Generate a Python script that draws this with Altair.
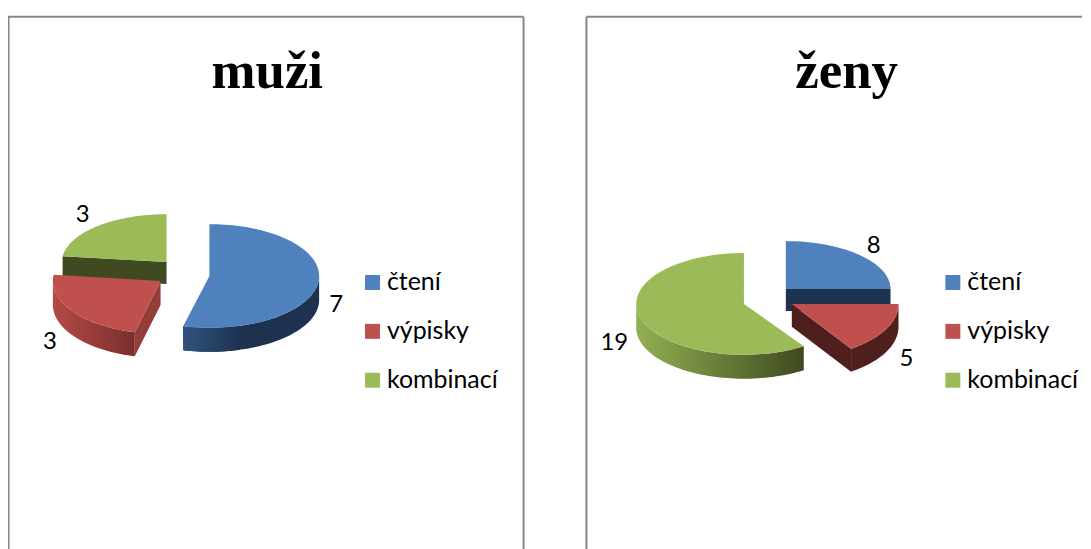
import math
import altair as alt
import pandas as pd

categories = ["čtení", "výpisky", "kombinací"]
colors = ["#4F81BD", "#C0504D", "#9BBB59"]
men_values = [7, 3, 3]
women_values = [8, 5, 19]

# exploded-slice placement: apex x, apex y, radius x, radius y, depth
men_geom = [(210, 276, 110, 52, 24), (161, 281, 108, 53, 24), (167, 262, 105, 48, 22)]
women_geom = [(786, 289, 105, 48, 22), (792, 304, 107, 54, 23), (744, 304, 108, 51, 24)]

men_labels = [(337, 305), (50, 342), (83, 215)]
women_labels = [(874, 246), (907, 359), (614, 343)]

XDOM_L = [8, 525]
XDOM_R = [586, 1083]
YDOM = [550, 16]
H = 534
FRAME = "#868686"

def pt(g, a):
    r = math.radians(a)
    return (g[0] + g[2] * math.sin(r), g[1] - g[3] * math.cos(r))

def arc(g, a0, a1):
    n = max(2, int(abs(a1 - a0) / 2))
    return [pt(g, a0 + (a1 - a0) * i / n) for i in range(n + 1)]

def poly(points, fill, xdom):
    df = pd.DataFrame({"x": [p[0] for p in points], "y": [p[1] for p in points], "i": range(len(points))})
    return alt.Chart(df).mark_line(fill=fill, strokeWidth=0, interpolate="linear").encode(
        x=alt.X("x:Q", scale=alt.Scale(domain=xdom), axis=None),
        y=alt.Y("y:Q", scale=alt.Scale(domain=YDOM), axis=None),
        order="i:Q",
    )

def grad(c0, c1):
    return alt.Gradient(gradient="linear", x1=0, x2=1, y1=0, y2=0,
                        stops=[alt.GradientStop(color=c0, offset=0), alt.GradientStop(color=c1, offset=1)])

def wall(g, a0, a1, fill, xdom):
    top = arc(g, a0, a1)
    d = g[4]
    return poly(top + [(x, y + d) for x, y in reversed(top)], fill, xdom)

def cut(g, a, fill, xdom):
    e = pt(g, a)
    d = g[4]
    return poly([(g[0], g[1]), e, (e[0], e[1] + d), (g[0], g[1] + d)], fill, xdom)

def top(g, a0, a1, fill, xdom):
    return poly([(g[0], g[1])] + arc(g, a0, a1), fill, xdom)

def texts(labels, values, xdom):
    df = pd.DataFrame({"x": [p[0] for p in labels], "y": [p[1] for p in labels], "t": [str(v) for v in values]})
    return alt.Chart(df).mark_text(font="Lato", fontSize=24, color="#000000", align="center", baseline="middle").encode(
        x=alt.X("x:Q", scale=alt.Scale(domain=xdom), axis=None),
        y=alt.Y("y:Q", scale=alt.Scale(domain=YDOM), axis=None),
        text="t:N",
    )

def heading(text, xc, xdom):
    df = pd.DataFrame({"x": [xc], "y": [71], "t": [text]})
    return alt.Chart(df).mark_text(font="Liberation Serif", fontWeight="bold", fontSize=53, color="#000000",
                                   align="center", baseline="middle").encode(
        x=alt.X("x:Q", scale=alt.Scale(domain=xdom), axis=None),
        y=alt.Y("y:Q", scale=alt.Scale(domain=YDOM), axis=None),
        text="t:N",
    )

def legend_layer(lx):
    df = pd.DataFrame({"k": categories})
    return alt.Chart(df).mark_square(opacity=0, size=225).encode(
        x=alt.value(200), y=alt.value(200),
        color=alt.Color("k:N", scale=alt.Scale(domain=categories, range=colors),
                        legend=alt.Legend(title=None, orient="none", legendX=lx, legendY=254,
                                          symbolType="square", symbolSize=225, symbolOpacity=1,
                                          symbolStrokeWidth=0, symbolOffset=0,
                                          labelFont="Lato", labelFontSize=25, labelColor="#000000",
                                          labelOffset=2, rowPadding=23, labelLimit=200)),
    )

def frame(w):
    base = alt.Chart(pd.DataFrame({"k": [0]}))
    return alt.layer(
        base.mark_rule(color=FRAME, strokeWidth=2).encode(x=alt.value(0.5), y=alt.value(0), y2=alt.value(H)),
        base.mark_rule(color=FRAME, strokeWidth=2).encode(x=alt.value(w), y=alt.value(0), y2=alt.value(H)),
        base.mark_rule(color=FRAME, strokeWidth=2).encode(x=alt.value(0), x2=alt.value(w), y=alt.value(0)),
    )

def angles(vals):
    total = sum(vals)
    out, s = [], 0
    for v in vals:
        e = s + v / total * 360
        out.append((s, e))
        s = e
    return out

# men
ma = angles(men_values)
mb, mr, mg = men_geom
left = alt.layer(
    frame(517),
    heading("muži", 268, XDOM_L),
    cut(mg, ma[2][0], "#404A20", XDOM_L),
    top(mg, *ma[2], colors[2], XDOM_L),
    wall(mb, 90, ma[0][1], "#1E3250", XDOM_L),
    wall(mb, ma[0][1] - 30, ma[0][1], grad("#315380", "#1E3250"), XDOM_L),
    top(mb, *ma[0], colors[0], XDOM_L),
    wall(mr, ma[1][0], 270, grad("#B34A47", "#7A2F2D"), XDOM_L),
    cut(mr, ma[1][0], "#953D3B", XDOM_L),
    top(mr, *ma[1], colors[1], XDOM_L),
    texts(men_labels, men_values, XDOM_L),
    legend_layer(353),
).properties(width=517, height=H)

# women
wa = angles(women_values)
wb, wr, wg = women_geom
right = alt.layer(
    alt.Chart(pd.DataFrame({"k": [0]})).mark_rule(color=FRAME, strokeWidth=2).encode(x=alt.value(0), y=alt.value(0), y2=alt.value(H)),
    alt.Chart(pd.DataFrame({"k": [0]})).mark_rule(color=FRAME, strokeWidth=2).encode(x=alt.value(0), x2=alt.value(497), y=alt.value(0)),
    heading("ženy", 847, XDOM_R),
    cut(wb, wa[0][1], "#1F3350", XDOM_R),
    top(wb, *wa[0], colors[0], XDOM_R),
    wall(wg, wa[2][0], 270, grad("#92B052", "#3F4A20"), XDOM_R),
    top(wg, *wa[2], colors[2], XDOM_R),
    wall(wr, 90, wa[1][1], "#4F1F1E", XDOM_R),
    cut(wr, wa[1][1], "#4F1F1E", XDOM_R),
    top(wr, *wa[1], colors[1], XDOM_R),
    texts(women_labels, women_values, XDOM_R),
    legend_layer(355),
).properties(width=497, height=H)

chart = (
    alt.hconcat(left, right, spacing=61)
    .resolve_scale(color="independent", x="independent", y="independent")
    .properties(padding={"left": -1, "top": 7, "right": 0, "bottom": 0}, background="white")
    .configure_view(stroke=None)
)

chart.save("out.html", embed_options={"renderer": "svg", "actions": False})
